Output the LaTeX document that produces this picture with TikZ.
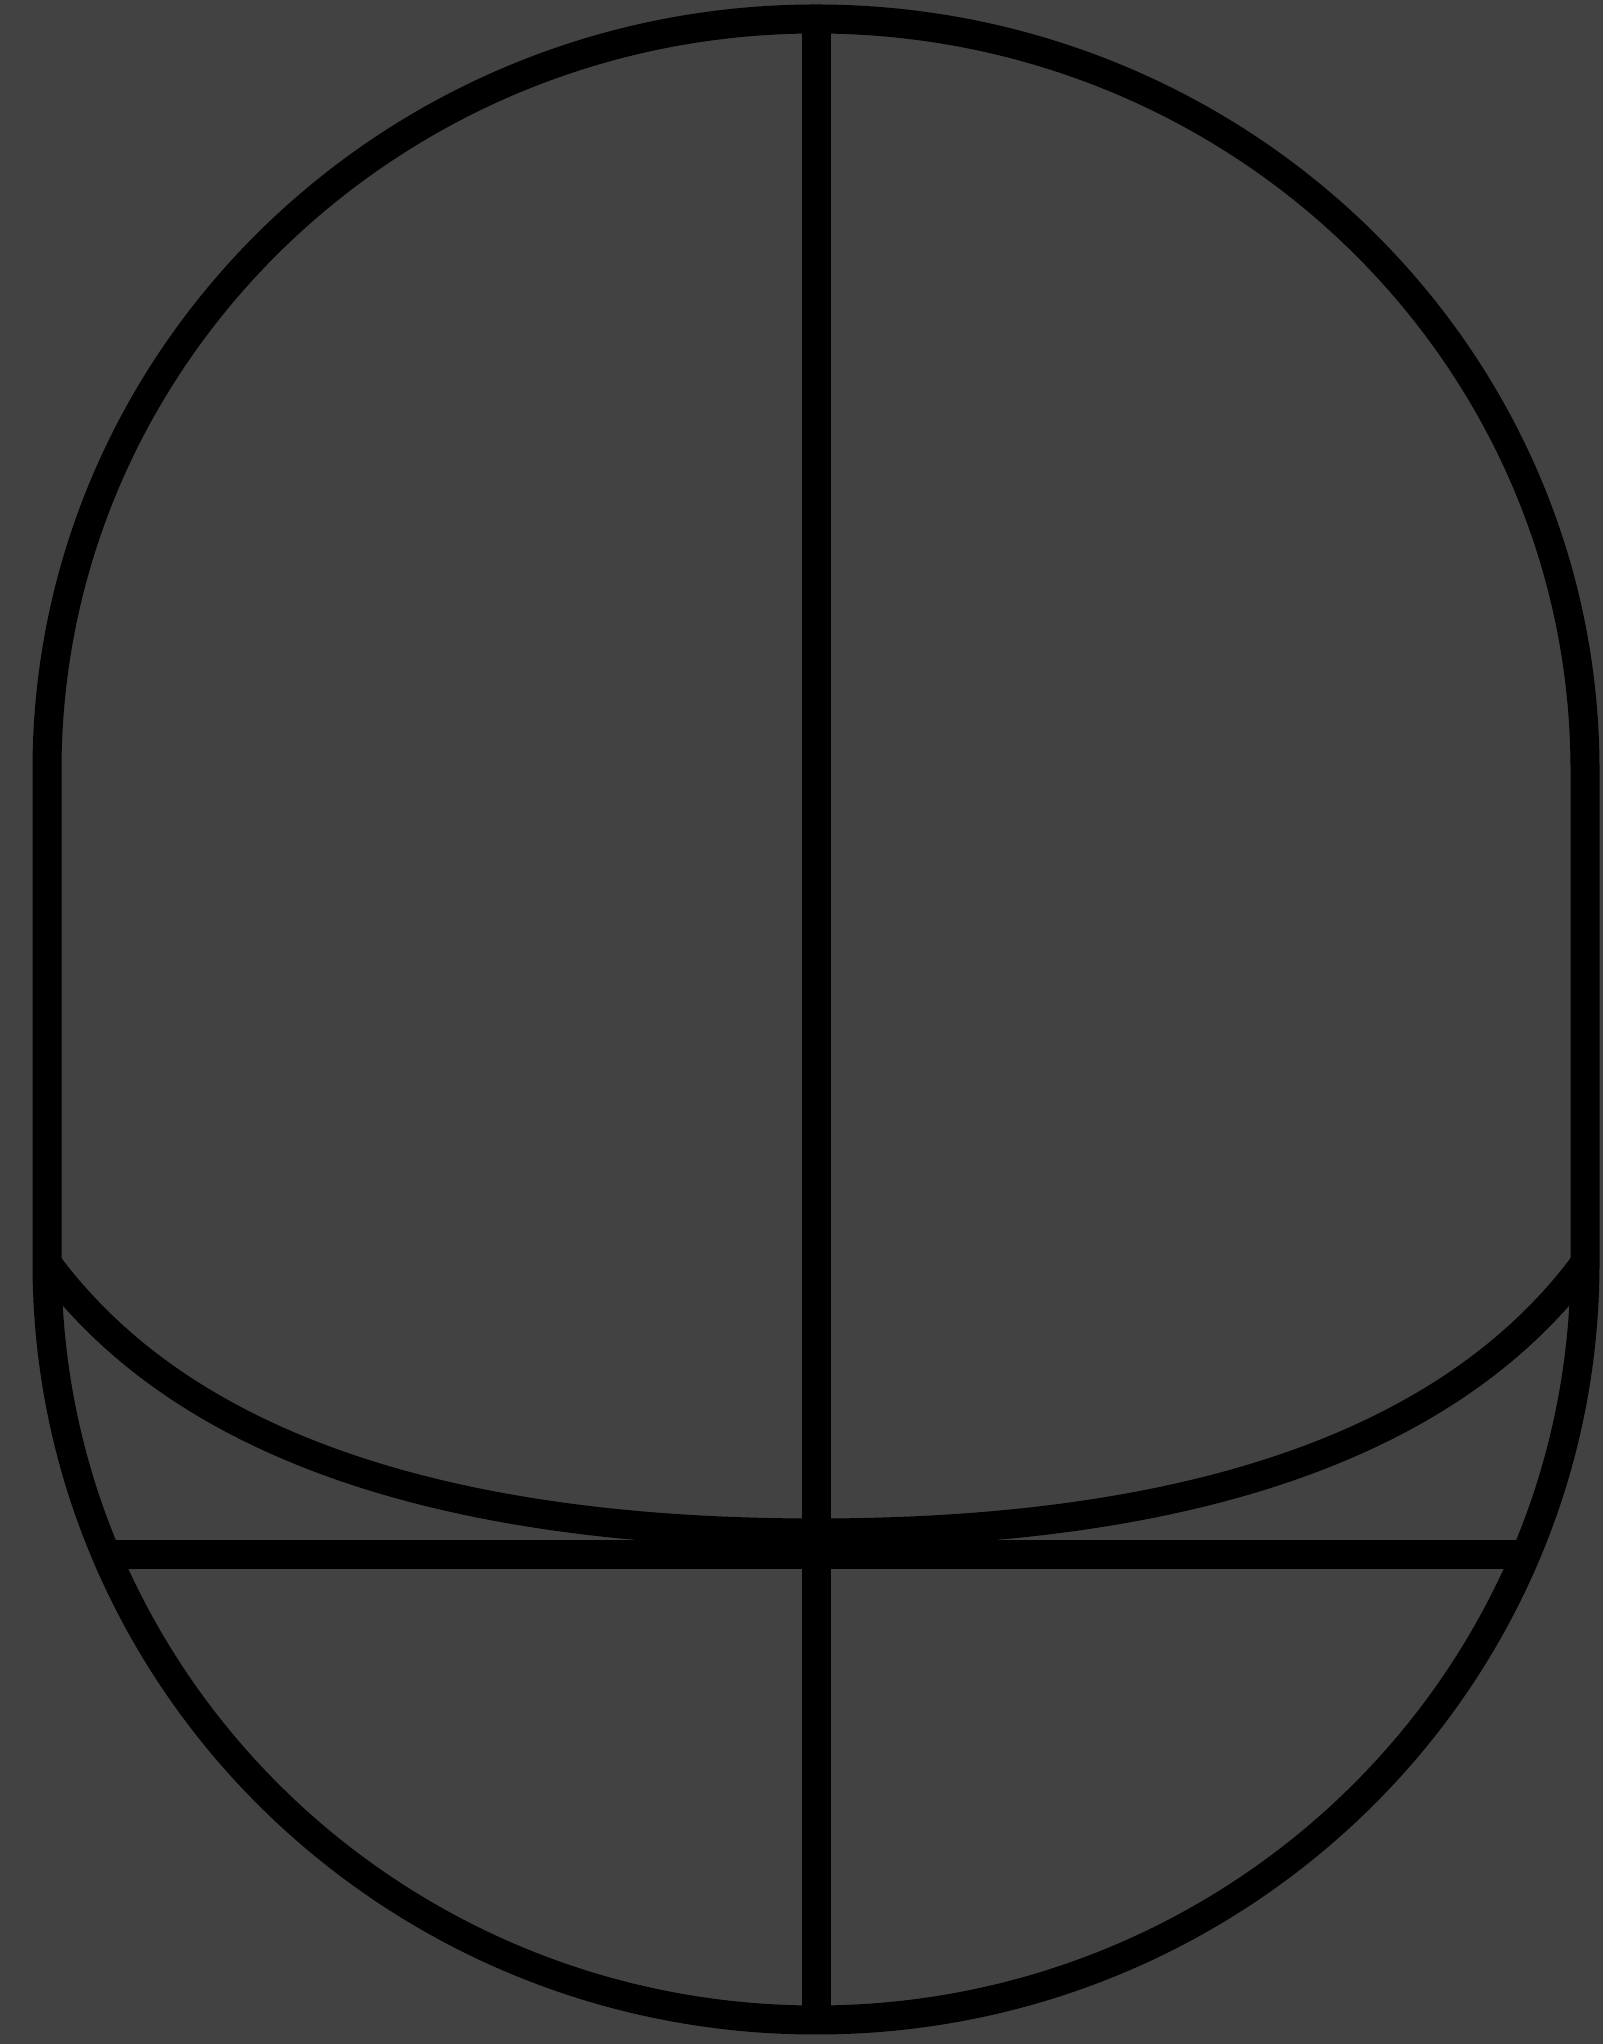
\documentclass[tikz,border=0pt]{standalone}
\definecolor{bgc}{RGB}{66,66,66}
\begin{document}
\begin{tikzpicture}[x=1pt,y=1pt,
  stroke/.style={draw=black,line width=29pt,line join=round}]
\useasboundingbox (0,0) rectangle (1603,2044);
\fill[bgc] (0,0) rectangle (1603,2044);
% outer capsule
\draw[stroke] (47,1274) arc[start angle=180,end angle=0,x radius=769,y radius=751]
  -- (1585,781) arc[start angle=0,end angle=-180,x radius=769,y radius=757] -- cycle;
% chin curve
\coordinate (cl) at (47,781);
\coordinate (cm) at (816,511);
\coordinate (cr) at (1585,781);
\draw[stroke] (cl) .. controls (200,574) and (500,511) .. (cm)
  .. controls (1132,511) and (1432,574) .. (cr);
% horizontal line
\coordinate (hl) at (107,489);
\coordinate (hr) at (1525,489);
\draw[stroke] (hl) -- (hr);
% vertical center line
\coordinate (vt) at (816,2025);
\coordinate (vb) at (816,24);
\draw[stroke] (vt) -- (vb);
\end{tikzpicture}
\end{document}
